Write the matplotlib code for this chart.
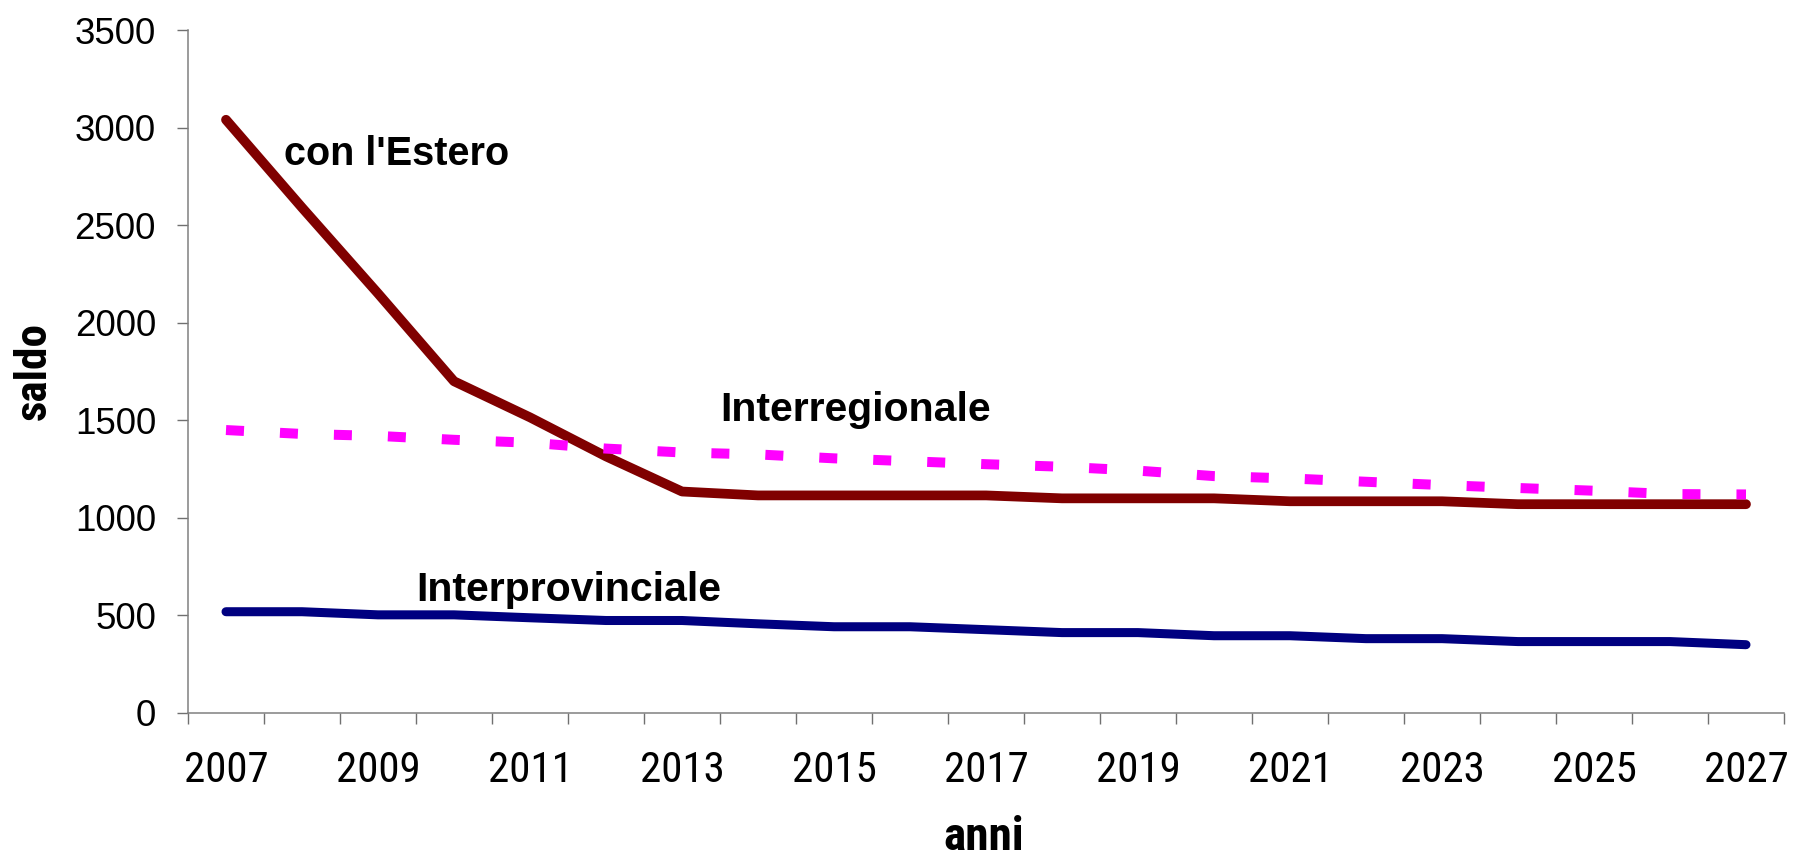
import matplotlib
matplotlib.use("Agg")
import matplotlib.pyplot as plt

years = list(range(2007, 2028))
estero = [3040, 2590, 2150, 1700, 1515, 1315, 1135, 1115, 1115, 1115, 1115,
          1100, 1100, 1100, 1085, 1085, 1085, 1070, 1070, 1070, 1070]
interregionale = [1450, 1430, 1420, 1400, 1385, 1355, 1335, 1325, 1305, 1290, 1275,
                  1262, 1242, 1214, 1202, 1185, 1168, 1153, 1139, 1122, 1120]
interprovinciale = [519, 519, 503, 503, 488, 474, 474, 457, 442, 442, 427,
                    412, 412, 396, 396, 381, 381, 366, 366, 366, 350]
xtick_labels = [str(y) for y in years[::2]]
yticks = [0, 500, 1000, 1500, 2000, 2500, 3000, 3500]

REG = ["Liberation Sans", "DejaVu Sans"]
NARROW = ["Roboto Condensed", "Liberation Sans", "DejaVu Sans"]
PX = 72 / 100  # points per pixel at 100 dpi

fig = plt.figure(figsize=(18.05, 8.57), dpi=100)
ax = fig.add_axes([188/1805, 1-713/857, (1784-188)/1805, (713-30)/857])

ax.plot(years, estero, color="#800000", lw=7.0, solid_capstyle="round", solid_joinstyle="round")
ax.plot(years, interregionale, color="#FF00FF", lw=7.2, dashes=(1.8, 3.6), dash_capstyle="butt")
ax.plot(years, interprovinciale, color="#000080", lw=6.5, solid_capstyle="round", solid_joinstyle="round")

ax.set_xlim(years[0]-0.5, years[-1]+0.5)
ax.set_ylim(0, 3500)
ax.set_yticks(yticks)
ax.set_yticklabels([str(v) for v in yticks], fontfamily=REG, fontsize=26.5)

bounds = [y-0.5 for y in years] + [years[-1]+0.5]
ax.set_xticks(bounds)
ax.set_xticklabels([])
ax.set_xticks(years[::2], minor=True)
ax.set_xticklabels(xtick_labels, minor=True, fontfamily=NARROW, fontsize=31)
ax.tick_params(axis="x", which="minor", length=0, pad=37*PX)
ax.tick_params(axis="x", which="major", length=11*PX, width=1.0, color="#707070")
ax.tick_params(axis="y", length=11*PX, width=1.0, color="#707070", pad=21*PX)

for s in ["top", "right"]:
    ax.spines[s].set_visible(False)
for s in ["left", "bottom"]:
    ax.spines[s].set_color("#808080")
    ax.spines[s].set_linewidth(1.1)

ax.text(2009.25, 2808, "con l'Estero", fontfamily=REG, fontweight="bold", fontsize=28.5,
        ha="center", va="baseline")
ax.text(2015.29, 1497, "Interregionale", fontfamily=REG, fontweight="bold", fontsize=29.5,
        ha="center", va="baseline")
ax.text(2011.51, 572, "Interprovinciale", fontfamily=REG, fontweight="bold", fontsize=29.5,
        ha="center", va="baseline")

fig.text(34/1805, 1-371/857, "saldo", rotation=90, fontfamily=NARROW, fontweight="bold",
         fontsize=32.5, ha="center", va="center")
fig.text(984/1805, 1-837/857, "anni", fontfamily=NARROW, fontweight="bold",
         fontsize=34, ha="center", va="center")

fig.savefig("out.png", dpi=100)
